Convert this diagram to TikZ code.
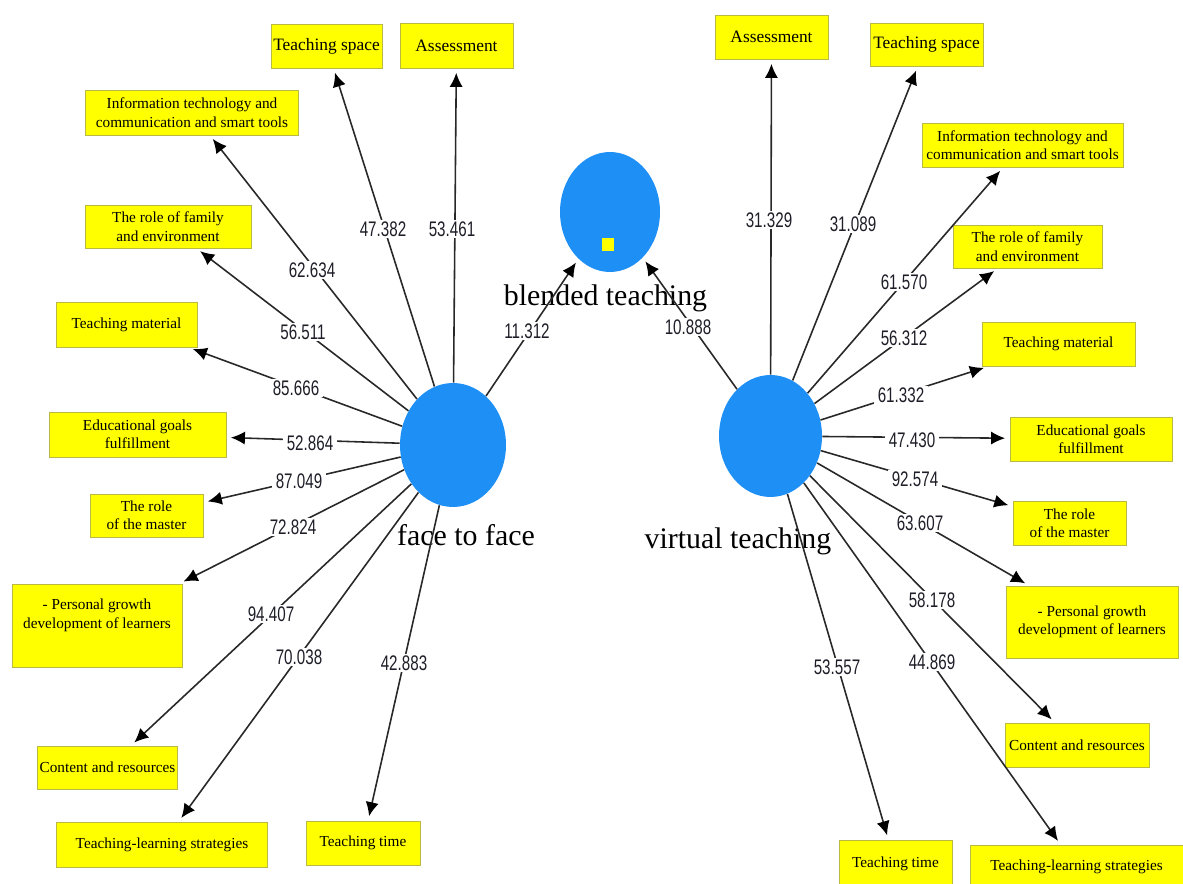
\documentclass[tikz,border=0pt]{standalone}
\usepackage{fontspec}
\usepackage{graphicx}
\setmainfont{Liberation Serif}
\newfontfamily\numff{Liberation Sans}
\usetikzlibrary{shapes.geometric,arrows.meta}
\definecolor{yel}{RGB}{255,255,0}
\definecolor{boxedge}{RGB}{185,185,70}
\definecolor{bl}{RGB}{30,144,245}
\definecolor{linec}{RGB}{40,40,40}
\definecolor{numc}{RGB}{30,30,40}
\newcommand\sqz[1]{\scalebox{0.72}[1]{#1}}
\newcommand\smallbox{\fontsize{8.7}{10.5}\selectfont}
\newcommand\topbox{\fontsize{9.9}{12}\selectfont}
\newcommand\bigfont{\fontsize{17}{20}\selectfont}
\newcommand\numfont{\numff\fontsize{12}{13}\selectfont}
\tikzset{
  box/.style={draw=boxedge, fill=yel, line width=0.55pt, inner sep=1pt, align=center, font=\smallbox, text=black},
  sz/.style 2 args={minimum width=#1cm, minimum height=#2cm},
  ell/.style 2 args={ellipse, fill=bl, draw=none, inner sep=0pt, minimum width=#1cm, minimum height=#2cm},
  arr/.style={draw=linec, line width=0.9pt, -{Latex[length=8pt,width=7.5pt,color=black]}, shorten >=2.5pt},
  val/.style={fill=white, inner xsep=2pt, inner ysep=1pt, text=numc, font=\numfont},
  big/.style={font=\bigfont, text=black, inner sep=0pt, anchor=base},
}
\begin{document}
\begin{tikzpicture}[x=0.02cm, y=-0.02cm]
\clip (0,0) rectangle (1183,884);
\fill[white] (0,0) rectangle (1183,884);

% ellipses
\node[ell={2.12}{2.48}] (ff) at (453,445) {};
\node[ell={2.0}{2.4}] (bt) at (610,212) {};
\node[ell={2.06}{2.44}] (vt) at (770.5,436) {};
\node[fill=yel, draw=none, minimum width=0.24cm, minimum height=0.26cm, inner sep=0pt] (sq) at (608,245) {};

% big labels
\node[big] (tff) at (466,546) {face to face};
\node[big] (tbt) at (605.5,306) {blended teaching};
\node[big] (tvt) at (738,549) {virtual teaching};

% left boxes
\node[box, font=\topbox, sz={2.22}{0.88}] (L1) at (326.5,46) {Teaching space};
\node[box, font=\topbox, sz={2.26}{0.90}] (L2) at (456.5,45.5) {Assessment};
\node[box, sz={4.28}{0.90}] (L3) at (192,112.5) {Information technology and\\communication and smart tools};
\node[box, sz={3.32}{0.86}] (L4) at (168,226.5) {The role of family\\and environment};
\node[box, sz={2.82}{0.90}] (L5) at (126.5,324.5) {Teaching material};
\node[box, sz={3.54}{0.90}] (L6) at (137.5,434.5) {Educational goals\\fulfillment};
\node[box, sz={2.26}{0.86}] (L7) at (146.5,515.5) {The role\\of the master};
\node[box, sz={3.40}{1.66}] (L8) at (97,625.5) {- Personal growth\\development of learners\\\strut};
\node[box, sz={2.74}{0.86}] (L9) at (107.5,767.5) {Content and resources};
\node[box, sz={4.24}{0.90}] (L10) at (162,844.5) {Teaching-learning strategies};
\node[box, sz={2.28}{0.88}] (L11) at (363,843) {Teaching time};

% right boxes
\node[box, font=\topbox, sz={2.26}{0.88}] (R1) at (771.5,37) {Assessment};
\node[box, font=\topbox, sz={2.26}{0.86}] (R2) at (926.5,44.5) {Teaching space};
\node[box, sz={4.02}{0.88}] (R3) at (1022.5,145) {Information technology and\\communication and smart tools};
\node[box, sz={2.98}{0.86}] (R4) at (1027.5,246.5) {The role of family\\and environment};
\node[box, sz={3.06}{0.88}] (R5) at (1058.5,344) {Teaching material};
\node[box, sz={3.24}{0.88}] (R6) at (1091,439) {Educational goals\\fulfillment};
\node[box, sz={2.26}{0.88}] (R7) at (1069.5,523) {The role\\of the master};
\node[box, sz={3.44}{1.44}] (R8) at (1092,622) {- Personal growth\\development of learners};
\node[box, sz={2.88}{0.88}] (R9) at (1077,745) {Content and resources};
\node[box, sz={2.26}{0.96}] (R10) at (895.5,864) {Teaching time};
\node[box, sz={4.26}{0.88}] (R11) at (1076.5,867) {Teaching-learning strategies};

% connectors
\foreach \b in {L1,L2,L3,L4,L5,L6,L7,L8,L9,L10,L11} \draw[arr] (ff) -- (\b);
\foreach \b in {R1,R2,R3,R4,R5,R6,R7,R8,R9,R10,R11} \draw[arr] (vt) -- (\b);
\draw[arr] (ff) -- (bt);
\draw[arr] (vt) -- (bt);

% values left
\node[val] (a1) at (383,229) {\sqz{47.382}};
\node[val] (a2) at (452,229) {\sqz{53.461}};
\node[val] (a3) at (312,270) {\sqz{62.634}};
\node[val] (a4) at (303,332) {\sqz{56.511}};
\node[val] (a5) at (296,388) {\sqz{85.666}};
\node[val] (a6) at (310,443) {\sqz{52.864}};
\node[val] (a7) at (299,481) {\sqz{87.049}};
\node[val] (a8) at (293,527) {\sqz{72.824}};
\node[val] (a9) at (271,614) {\sqz{94.407}};
\node[val] (a10) at (299,657) {\sqz{70.038}};
\node[val] (a11) at (404,663) {\sqz{42.883}};
\node[val] (a12) at (527,331) {\sqz{11.312}};
% values right
\node[val] (b1) at (769,220) {\sqz{31.329}};
\node[val] (b2) at (853,224) {\sqz{31.089}};
\node[val] (b3) at (904,282) {\sqz{61.570}};
\node[val] (b4) at (904,338) {\sqz{56.312}};
\node[val] (b5) at (901,395) {\sqz{61.332}};
\node[val] (b6) at (912,440) {\sqz{47.430}};
\node[val] (b7) at (915,479) {\sqz{92.574}};
\node[val] (b8) at (920,523) {\sqz{63.607}};
\node[val] (b9) at (932,600) {\sqz{58.178}};
\node[val] (b10) at (932,662) {\sqz{44.869}};
\node[val] (b11) at (837,667) {\sqz{53.557}};
\node[val] (b12) at (688,327) {\sqz{10.888}};
\end{tikzpicture}
\end{document}
